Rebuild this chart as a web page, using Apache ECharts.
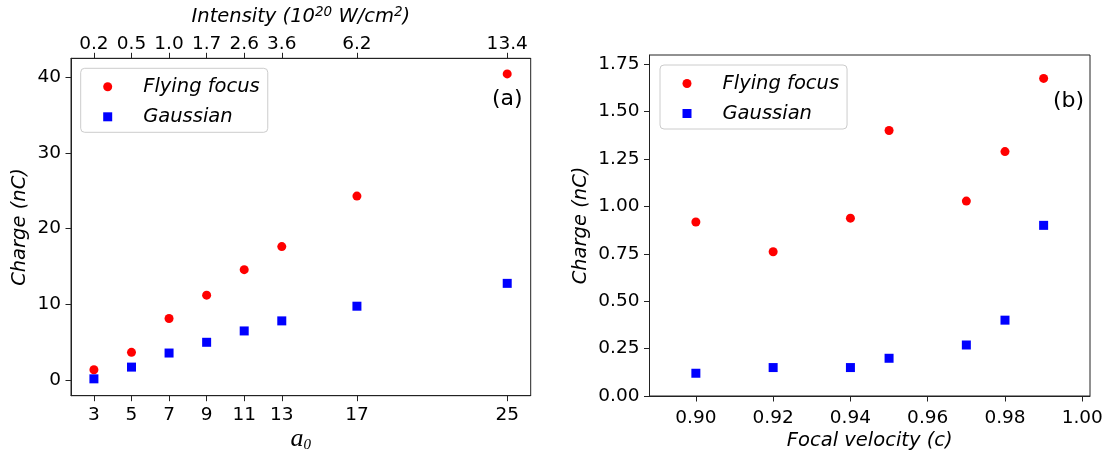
<!DOCTYPE html>
<html lang="en">
<head>
  <meta charset="utf-8">
</head>
<body style="margin: 0; background: #fff">
  <div id="container" style="width: 1112px; height: 452px"></div>

  <script type="text/javascript" src="https://cdn.jsdelivr.net/npm/echarts@6/dist/echarts.min.js"></script>
  <script type="text/javascript">
    // panel (a): charge vs a0
    var a0Ticks = [3, 5, 7, 9, 11, 13, 17, 25];
    var intensityLabels = ['0.2', '0.5', '1.0', '1.7', '2.6', '3.6', '6.2', '13.4'];
    var flyingA = [1.33, 3.63, 8.1, 11.19, 14.56, 17.61, 24.29, 40.44];
    var gaussA = [0.13, 1.68, 3.54, 4.96, 6.46, 7.79, 9.73, 12.75];
    var chargeTicksA = [0, 10, 20, 30, 40];

    // panel (b): charge vs focal velocity
    var velocity = [0.90, 0.92, 0.94, 0.95, 0.97, 0.98, 0.99];
    var flyingB = [0.918, 0.761, 0.938, 1.40, 1.028, 1.289, 1.675];
    var gaussB = [0.12, 0.15, 0.15, 0.199, 0.269, 0.40, 0.90];
    var velocityTicks = [0.90, 0.92, 0.94, 0.96, 0.98, 1.00];
    var chargeTicksB = [0, 0.25, 0.5, 0.75, 1.0, 1.25, 1.5, 1.75];

    var FONT = 'DejaVu Sans';
    var INK = '#222';

    function pairs(xs, ys) {
      return xs.map(function (x, i) { return [x, ys[i]]; });
    }

    function baseAxis(extra) {
      var ax = {
        type: 'value',
        axisLine: { show: true, onZero: false, lineStyle: { color: INK, width: 1 } },
        axisTick: { show: true, length: 5.5, lineStyle: { color: INK, width: 1 } },
        axisLabel: { fontFamily: FONT, fontSize: 18.5, color: '#000' },
        splitLine: { show: false },
        nameLocation: 'middle',
        nameMoveOverlap: false,
        nameTextStyle: { fontFamily: FONT, fontSize: 19.5, fontStyle: 'italic', color: '#000' }
      };
      for (var k in extra) {
        if (typeof extra[k] === 'object' && ax[k] && !Array.isArray(extra[k])) {
          ax[k] = Object.assign({}, ax[k], extra[k]);
        } else {
          ax[k] = extra[k];
        }
      }
      return ax;
    }

    function legendFor(left, top) {
      return {
        left: left,
        top: top,
        orient: 'vertical',
        padding: [6.5, 8, 3.5, 22.5],
        itemWidth: 9,
        itemHeight: 9,
        itemGap: 6,
        backgroundColor: 'rgba(255,255,255,0.8)',
        borderColor: '#cccccc',
        borderWidth: 1,
        borderRadius: 4,
        formatter: function (name) { return '{t|' + name + '}'; },
        textStyle: {
          fontFamily: FONT, fontSize: 19.5, fontStyle: 'italic', color: '#000', lineHeight: 24,
          rich: {
            t: { fontFamily: FONT, fontSize: 19.5, fontStyle: 'italic', color: '#000',
                 lineHeight: 24, padding: [0, 0, 0, 26] }
          }
        },
        data: [
          { name: 'Flying focus', icon: 'circle' },
          { name: 'Gaussian', icon: 'rect' }
        ]
      };
    }

    var dom = document.getElementById('container');
    var myChart = echarts.init(dom, null, { renderer: 'canvas' });

    var option = {
      animation: false,
      backgroundColor: '#fff',
      grid: [
        { left: 71, top: 58.3, width: 459.7, height: 337.4, show: true, borderColor: INK, borderWidth: 1,
          outerBoundsMode: 'none', containLabel: false },
        { left: 649.5, top: 55, width: 440.5, height: 341, show: true, borderColor: INK, borderWidth: 1,
          outerBoundsMode: 'none', containLabel: false }
      ],
      xAxis: [
        baseAxis({
          gridIndex: 0, position: 'bottom', min: 1.78, max: 26.25,
          axisTick: { customValues: a0Ticks },
          axisLabel: { customValues: a0Ticks, margin: 10 },
          name: '{a|a}{s|0}', nameGap: 29,
          nameTextStyle: {
            rich: {
              a: { fontFamily: 'Liberation Serif', fontStyle: 'italic', fontSize: 26, color: '#000', lineHeight: 28 },
              s: { fontFamily: 'Liberation Serif', fontSize: 15, color: '#000', verticalAlign: 'bottom', lineHeight: 16 }
            }
          }
        }),
        baseAxis({
          gridIndex: 0, position: 'top', min: 1.78, max: 26.25,
          axisTick: { customValues: a0Ticks },
          axisLabel: {
            customValues: a0Ticks, margin: 5,
            formatter: function (v) {
              var i = a0Ticks.indexOf(v);
              return i >= 0 ? intensityLabels[i] : '';
            }
          },
          name: '{i|Intensity} {n|(10}{s|20}{i| W/cm}{s|2}{n|)}', nameGap: 29,
          nameTextStyle: {
            rich: {
              i: { fontFamily: FONT, fontStyle: 'italic', fontSize: 19.5, color: '#000', lineHeight: 24 },
              n: { fontFamily: FONT, fontSize: 19.5, color: '#000', lineHeight: 24 },
              s: { fontFamily: FONT, fontSize: 13.5, color: '#000', verticalAlign: 'top', lineHeight: 14 }
            }
          }
        }),
        baseAxis({
          gridIndex: 1, position: 'bottom', min: 0.888, max: 1.002,
          axisTick: { customValues: velocityTicks },
          axisLabel: {
            customValues: velocityTicks, margin: 13,
            formatter: function (v) { return v.toFixed(2); }
          },
          name: 'Focal velocity (c)', nameGap: 35
        })
      ],
      yAxis: [
        baseAxis({
          gridIndex: 0, min: -2.1, max: 42.5,
          axisTick: { customValues: chargeTicksA },
          axisLabel: { customValues: chargeTicksA, margin: 10 },
          name: 'Charge (nC)', nameGap: 41
        }),
        baseAxis({
          gridIndex: 1, min: 0, max: 1.7985,
          axisTick: { customValues: chargeTicksB },
          axisLabel: {
            customValues: chargeTicksB, margin: 10,
            formatter: function (v) { return v.toFixed(2); }
          },
          name: 'Charge (nC)', nameGap: 59
        })
      ],
      legend: [legendFor(80.7, 68.3), legendFor(660, 65)],
      graphic: [
        { type: 'text', left: 492, top: 88, style: { text: '(a)', font: '22px "DejaVu Sans"', fill: '#000' } },
        { type: 'text', left: 1053, top: 90, style: { text: '(b)', font: '22px "DejaVu Sans"', fill: '#000' } }
      ],
      series: [
        { name: 'Flying focus', type: 'scatter', xAxisIndex: 0, yAxisIndex: 0, symbol: 'circle', symbolSize: 9,
          itemStyle: { color: '#ff0000', opacity: 1 }, data: pairs(a0Ticks, flyingA) },
        { name: 'Gaussian', type: 'scatter', xAxisIndex: 0, yAxisIndex: 0, symbol: 'rect', symbolSize: 9,
          itemStyle: { color: '#0000ff', opacity: 1 }, data: pairs(a0Ticks, gaussA) },
        { name: 'Flying focus', type: 'scatter', xAxisIndex: 2, yAxisIndex: 1, symbol: 'circle', symbolSize: 9,
          itemStyle: { color: '#ff0000', opacity: 1 }, data: pairs(velocity, flyingB) },
        { name: 'Gaussian', type: 'scatter', xAxisIndex: 2, yAxisIndex: 1, symbol: 'rect', symbolSize: 9,
          itemStyle: { color: '#0000ff', opacity: 1 }, data: pairs(velocity, gaussB) }
      ]
    };

    myChart.setOption(option);
    window.addEventListener('resize', myChart.resize);
  </script>
</body>
</html>
